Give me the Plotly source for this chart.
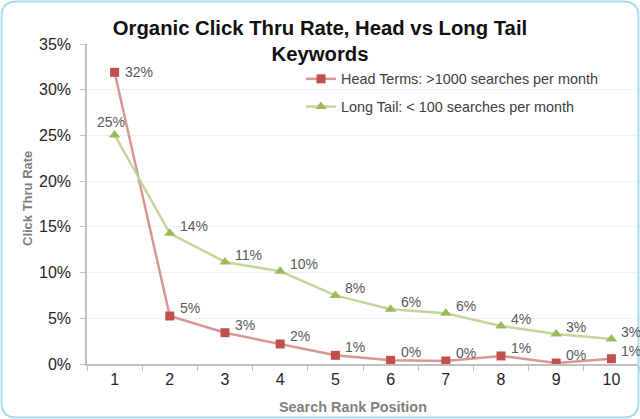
import plotly.graph_objects as go

ranks = ["1", "2", "3", "4", "5", "6", "7", "8", "9", "10"]
head_terms = [0.319, 0.0525, 0.0342, 0.0219, 0.0095, 0.0040, 0.0033, 0.0088, 0.0011, 0.0058]
long_tail = [0.2505, 0.143, 0.1116, 0.1014, 0.075, 0.060, 0.0555, 0.0416, 0.0328, 0.0274]
y_ticks = [0, 0.05, 0.10, 0.15, 0.20, 0.25, 0.30, 0.35]

FONT = "Liberation Sans, Arial, sans-serif"
L, R, T, B = 87, 1, 44, 55
W, H = 640 - L - R, 419 - T - B

def px(xp):
    return (xp - L) / W

def py(yp):
    return 1 - (yp - T) / H

fig = go.Figure()
fig.add_trace(go.Scatter(
    x=ranks, y=head_terms, mode="lines+markers", name="Head Terms: >1000 searches per month",
    line=dict(color="#d99694", width=2.5),
    marker=dict(symbol="square", size=9, color="#c0504d", line=dict(width=0)),
    legendgroup="a",
))
fig.add_trace(go.Scatter(
    x=ranks, y=long_tail, mode="lines+markers", name="Long Tail: < 100 searches per month",
    line=dict(color="#c3d69b", width=2.5),
    marker=dict(symbol="triangle-up", size=10, color="#9bbb59", line=dict(width=0)),
    legendgroup="b",
))

annotations = []
label_font = dict(size=14, color="#595959", family=FONT)
for i, v in enumerate(head_terms):
    annotations.append(dict(x=i, y=v, xref="x", yref="y", text=f"{round(v*100):.0f}%",
                            showarrow=False, xanchor="left", xshift=8, yshift=(0 if i == 0 else 8),
                            font=label_font))
for i, v in enumerate(long_tail):
    if i == 0:
        annotations.append(dict(x=i, y=v, xref="x", yref="y", text=f"{round(v*100):.0f}%",
                                showarrow=False, xanchor="center", yanchor="bottom",
                                xshift=-4, yshift=3, font=label_font))
    else:
        annotations.append(dict(x=i, y=v, xref="x", yref="y", text=f"{round(v*100):.0f}%",
                                showarrow=False, xanchor="left", xshift=8, yshift=7,
                                font=label_font))

annotations.append(dict(x=px(353), y=py(407), xref="paper", yref="paper",
                        text="<b>Search Rank Position</b>", showarrow=False,
                        xanchor="center", yanchor="middle",
                        font=dict(size=14.4, color="#7f7f7f", family=FONT)))
annotations.append(dict(x=px(27), y=py(199), xref="paper", yref="paper",
                        text="<b>Click Thru Rate</b>", showarrow=False, textangle=-90,
                        xanchor="center", yanchor="middle",
                        font=dict(size=13, color="#7f7f7f", family=FONT)))

# rounded frame
x0, x1, y0, y1, rr = px(1.5), px(638.5), py(1.5), py(417.5), 15
rx, ry = rr / W, rr / H
frame = (f"M {x0+rx},{y0} L {x1-rx},{y0} Q {x1},{y0} {x1},{y0-ry} "
         f"L {x1},{y1+ry} Q {x1},{y1} {x1-rx},{y1} L {x0+rx},{y1} "
         f"Q {x0},{y1} {x0},{y1+ry} L {x0},{y0-ry} Q {x0},{y0} {x0+rx},{y0} Z")

fig.update_layout(
    width=640, height=419,
    margin=dict(l=L, r=R, t=T, b=B),
    paper_bgcolor="white", plot_bgcolor="white",
    font=dict(family=FONT, color="#262626"),
    title=dict(text="<b>Organic Click Thru Rate, Head vs Long Tail<br>Keywords</b>",
               x=0.5, xanchor="center", xref="container",
               y=1 - 34.5/419, yanchor="middle", yref="container",
               font=dict(size=20.3, color="#111111", family=FONT)),
    showlegend=True,
    legend=dict(x=px(301), y=py(63), xanchor="left", yanchor="top",
                bgcolor="rgba(0,0,0,0)", font=dict(size=14.4, color="#404040", family=FONT),
                traceorder="grouped", tracegroupgap=6, itemwidth=30),
    xaxis=dict(type="category", range=[-0.5, 9.5], showgrid=False,
               showline=True, linecolor="#bfbfbf", linewidth=1.5,
               ticks="outside", tickson="boundaries", ticklen=5, tickcolor="#bfbfbf",
               tickfont=dict(size=16, color="#262626", family=FONT), fixedrange=True),
    yaxis=dict(range=[0, 0.35], tickvals=y_ticks, tickformat=".0%",
               showgrid=True, gridcolor="#f0f0f0", gridwidth=1,
               showline=True, linecolor="#bfbfbf", linewidth=1.5,
               ticks="outside", ticklen=5, tickcolor="#bfbfbf", zeroline=False,
               ticklabelstandoff=6,
               tickfont=dict(size=16, color="#262626", family=FONT), fixedrange=True),
    annotations=annotations,
    shapes=[dict(type="path", path=frame, xref="paper", yref="paper",
                 line=dict(color="#a9dcf0", width=2), layer="above")],
)

fig.write_html("out.html", config={"displayModeBar": False},
               post_script="document.body.style.margin='0';document.body.style.padding='0';document.body.style.overflow='hidden';")
